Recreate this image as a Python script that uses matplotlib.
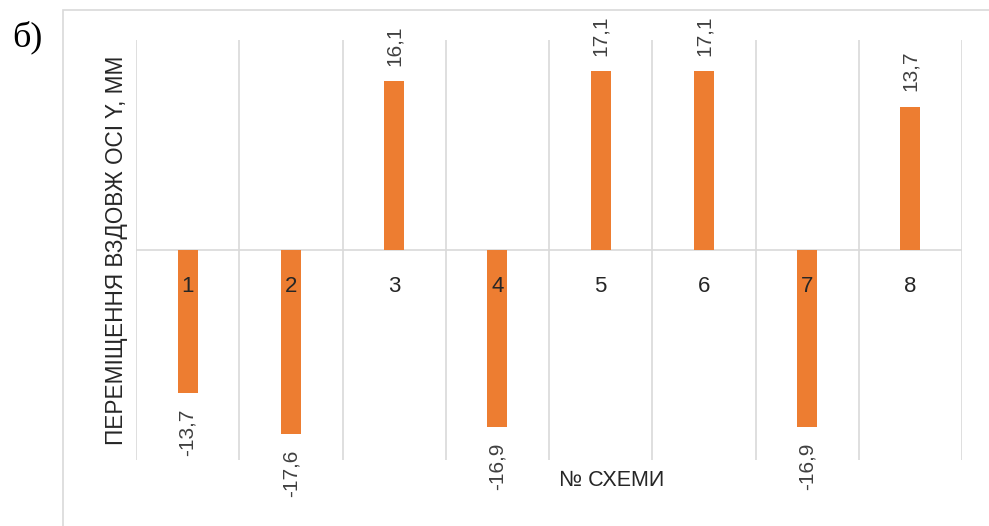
import matplotlib
matplotlib.use("Agg")
import matplotlib.pyplot as plt
from matplotlib.patches import Rectangle

categories = ["1", "2", "3", "4", "5", "6", "7", "8"]
values = [-13.7, -17.6, 16.1, -16.9, 17.1, 17.1, -16.9, 13.7]
value_labels = ["-13,7", "-17,6", "16,1", "-16,9", "17,1", "17,1", "-16,9", "13,7"]
y_title = "ПЕРЕМІЩЕННЯ ВЗДОВЖ ОСІ Y, ММ"
x_title = "№ СХЕМИ"
panel_label = "б)"

W, H = 989, 526
fig = plt.figure(figsize=(W / 100, H / 100), dpi=100)
plt.rcParams['font.family'] = ['Liberation Sans', 'DejaVu Sans']
text_color = '#404040'
grid_color = '#D9D9D9'
bar_color = '#ED7D31'

# chart border
fig.patches.append(Rectangle((63 / W, -0.05), 1.0, 1 - 10 / H + 0.05, transform=fig.transFigure,
                             fill=False, edgecolor='#D9D9D9', linewidth=1.2))

ax = fig.add_axes([136 / W, 1 - 460 / H, (962 - 136) / W, (460 - 40) / H])
x = list(range(1, len(categories) + 1))
ax.bar(x, values, width=0.195, color=bar_color, zorder=2)
ax.set_xlim(0.5, len(categories) + 0.5)
ax.set_ylim(-20.06, 20.06)
for b in [i + 0.5 for i in range(len(categories) + 1)]:
    ax.axvline(b, color=grid_color, linewidth=1.2, zorder=0)
ax.axhline(0, color=grid_color, linewidth=1.2, zorder=1)
for s in ax.spines.values():
    s.set_visible(False)
ax.set_xticks([])
ax.set_yticks([])

for xi, v, lab in zip(x, values, value_labels):
    ax.annotate(lab, (xi, v), xytext=(0, 11 if v > 0 else -11), textcoords='offset points',
                rotation=90, ha='center', va='bottom' if v > 0 else 'top',
                fontsize=15, color=text_color, zorder=3, annotation_clip=False)
    ax.annotate(categories[xi - 1], (xi, 0), xytext=(0, -26.5), textcoords='offset points',
                ha='center', va='center', fontsize=16, color='#262626', zorder=3)

fig.text(117 / W, 1 - 250 / H, y_title, rotation=90, ha='center', va='center',
         fontsize=16.3, color='#262626')
fig.text(612 / W, 1 - 480 / H, x_title, ha='center', va='center', fontsize=15.5,
         color='#262626')
fig.text(27 / W, 1 - 37 / H, panel_label, ha='center', va='center', fontsize=26,
         family=['Liberation Serif', 'DejaVu Serif'], color='black')

fig.savefig("out.png", dpi=100)
